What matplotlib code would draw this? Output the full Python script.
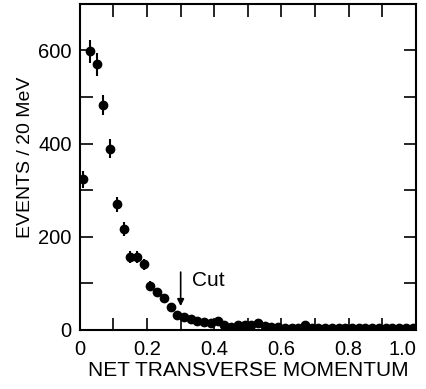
import numpy as np
import matplotlib
matplotlib.use("Agg")
import matplotlib.pyplot as plt

plt.rcParams['font.family'] = ['Liberation Sans', 'DejaVu Sans']

# bin centres (GeV)
x = [0.01, 0.03, 0.05, 0.07, 0.09, 0.11, 0.13, 0.15, 0.17, 0.19,
     0.21, 0.23, 0.25, 0.27, 0.29, 0.31, 0.33, 0.35, 0.37, 0.39,
     0.41, 0.43, 0.45, 0.47, 0.49, 0.51, 0.53, 0.55, 0.57, 0.59,
     0.61, 0.63, 0.65, 0.67, 0.69, 0.71, 0.73, 0.75, 0.77, 0.79,
     0.81, 0.83, 0.85, 0.87, 0.89, 0.91, 0.93, 0.95, 0.97, 0.99]
events = [323, 598, 570, 483, 389, 270, 216, 157, 157, 141,
          94, 81, 68, 50, 33, 28, 24, 20, 17, 14,
          18, 11, 7, 10, 11, 10, 15, 9, 7, 6,
          5, 5, 5, 10, 5, 5, 4, 4, 4, 4,
          4, 4, 4, 4, 4, 4, 4, 4, 4, 4]
errors = [18, 25, 24, 22, 20, 16, 15, 13, 13, 12,
          10, 9, 8, 7, 6, 5, 5, 4, 4, 4,
          4, 3, 3, 3, 3, 3, 4, 3, 3, 2,
          2, 2, 2, 3, 2, 2, 2, 2, 2, 2,
          2, 2, 2, 2, 2, 2, 2, 2, 2, 2]

fig = plt.figure(figsize=(4.27, 3.89), dpi=100)
ax = fig.add_axes([0.187, 0.152, 0.787, 0.838])

ax.errorbar(x, events, yerr=errors, fmt='o', color='black', ms=6,
            elinewidth=1.5, capsize=0)

ax.set_xlim(0, 1.0)
ax.set_ylim(0, 700)
ax.set_xticks([0, 0.2, 0.4, 0.6, 0.8, 1.0])
ax.set_xticklabels(['0', '0.2', '0.4', '0.6', '0.8', '1.0'])
ax.set_xticks(np.arange(0.1, 1.0, 0.2), minor=True)
ax.set_yticks([0, 200, 400, 600])
ax.set_yticks([100, 300, 500], minor=True)
ax.tick_params(which='both', direction='in', top=True, right=True,
               length=9, width=1.2, labelsize=14.5)
ax.tick_params(axis='x', pad=7)
ax.tick_params(axis='y', pad=6)
ax.get_xticklabels()[-1].set_horizontalalignment('right')
for s in ax.spines.values():
    s.set_linewidth(1.5)

ax.set_xlabel('NET TRANSVERSE MOMENTUM', fontsize=15, labelpad=2)
ax.set_ylabel('EVENTS / 20 MeV', fontsize=14)
ax.yaxis.set_label_coords(-0.135, 0.53)

ax.annotate('', xy=(0.3, 45), xytext=(0.3, 130),
            arrowprops=dict(arrowstyle='-|>', color='black', lw=1.2,
                            mutation_scale=10))
ax.text(0.335, 105, 'Cut', fontsize=15, va='center', ha='left')

fig.savefig('out.png', dpi=100)
